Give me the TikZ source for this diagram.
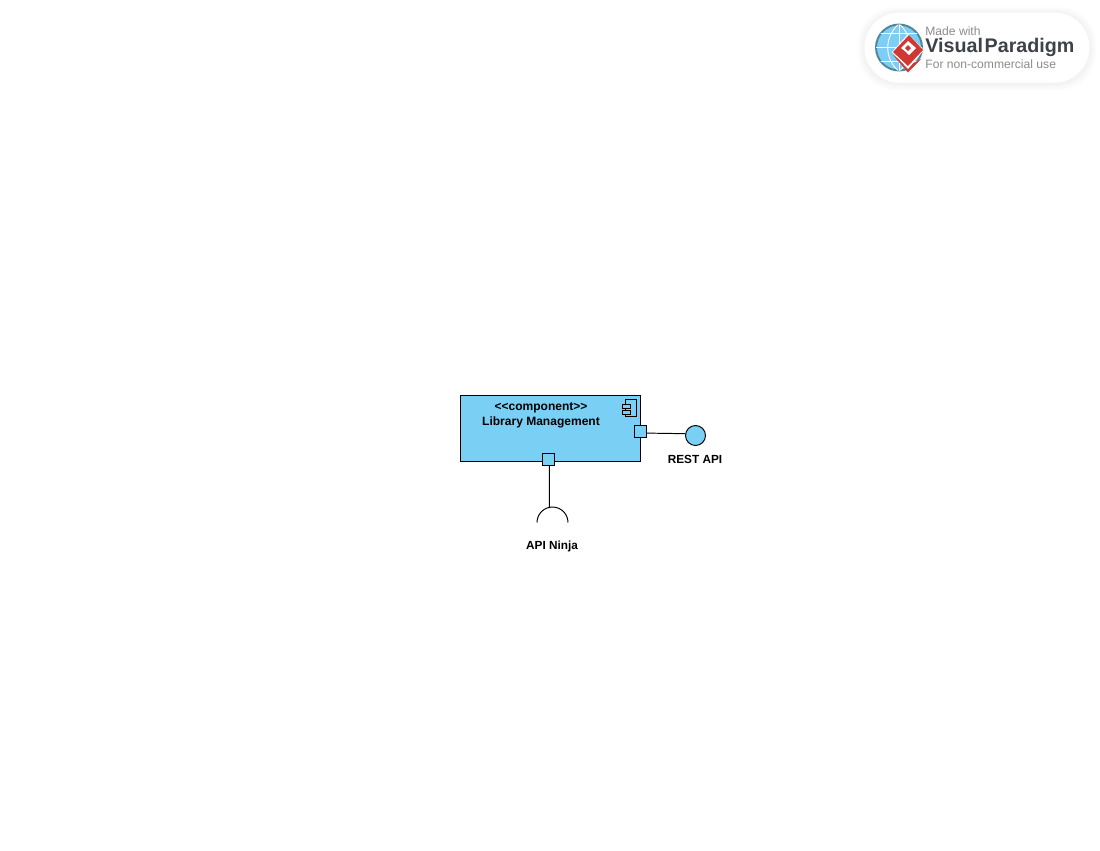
\documentclass[tikz,border=0pt]{standalone}
\usepackage{fontspec}
\setmainfont{Liberation Sans}
\usetikzlibrary{positioning,calc}
\definecolor{compblue}{RGB}{122,207,245}
\definecolor{vpgrey}{RGB}{140,140,140}
\definecolor{vpdark}{RGB}{62,66,72}
\definecolor{vpred}{RGB}{208,56,52}
\definecolor{vpring}{RGB}{84,134,150}
\definecolor{vpglobe}{RGB}{125,205,245}
\tikzset{
  compbox/.style={draw,fill=compblue,line width=0.5pt,minimum width=3.6cm,minimum height=1.32cm,inner sep=0pt},
  portbox/.style={draw,fill=compblue,line width=0.5pt,minimum size=0.25cm,inner sep=0pt},
  iconbox/.style={draw,fill=compblue,line width=0.45pt,inner sep=0pt},
  lollipop/.style={draw,circle,fill=compblue,line width=0.55pt,minimum size=0.4cm,inner sep=0pt},
  lbl/.style={font=\fontsize{6.7}{8}\selectfont\bfseries,inner sep=0pt,align=center},
  wire/.style={line width=0.55pt}
}
\begin{document}
\begin{tikzpicture}[x=0.02cm,y=-0.02cm]
  \useasboundingbox (0,0) rectangle (1100,850);
  % watermark
  \foreach \g in {6,5,4,3,2,1}{
      \fill[black,opacity=0.009,rounded corners=0.72cm] (864-\g,13-\g) rectangle (1090+\g,84+\g);
  }
  \node[fill=white,rounded corners=0.7cm,minimum width=4.5cm,minimum height=1.4cm,inner sep=0pt] (badge) at (977,47.5) {};
  \node[circle,draw=vpring,line width=1.1pt,fill=vpglobe,minimum size=0.92cm,inner sep=0pt] (globe) at (899,47.5) {};
  \begin{scope}
    \clip (899,47.5) circle (0.46cm);
    \foreach \r in {-14,0,14}{
        \draw[white,line width=0.5pt] (875,47.5+\r) -- (923,47.5+\r);
    }
    \draw[white,line width=0.5pt] (899,24) -- (899,71);
    \draw[white,line width=0.5pt] (899,24) .. controls (884,36) and (884,60) .. (899,71);
    \draw[white,line width=0.5pt] (899,24) .. controls (914,36) and (914,60) .. (899,71);
  \end{scope}
  \fill[vpred] (893,55) -- (908,72.5) -- (921,59) -- (908,66) -- cycle;
  \fill[white] (892,52) -- (908,34) -- (924,50) -- (908,69) -- cycle;
  \fill[vpred] (893,52) -- (909,35) -- (923,50) -- (908,66) -- cycle;
  \fill[white] (908,41) -- (916,48) -- (909,55) -- (906,52) -- (901,48) -- cycle;
  \fill[vpred] (908,45) -- (911,48) -- (908,51) -- (905,48) -- cycle;
  \node[font=\fontsize{6.9}{8}\selectfont,text=vpgrey,inner sep=0pt,anchor=west] (madewith) at (925,31) {Made with};
  \node[font=\fontsize{11.2}{13}\selectfont\bfseries,text=vpdark,inner sep=0pt,anchor=west] (vpname) at (925,47.5) {Visual\kern1pt Paradigm};
  \node[font=\fontsize{6.9}{8}\selectfont,text=vpgrey,inner sep=0pt,anchor=west] (nonuse) at (925,64.5) {For non-commercial use};
  % component
  \node[compbox] (library) at (550.5,428.5) {};
  \node[lbl,anchor=north,font=\fontsize{6.85}{8}\selectfont\bfseries] (libtext) at (541,402.5) {<\kern0pt<component>\kern0pt>\\[0.35pt]Library Management};
  \node[iconbox,minimum width=0.22cm,minimum height=0.34cm] (icon) at (630.5,408.3) {};
  \foreach \c/\y in {a/406,b/412}{
      \node[iconbox,minimum width=0.16cm,minimum height=0.08cm] (icon\c) at (626,\y) {};
  }
  \node[portbox] (porte) at (640.3,431.3) {};
  \node[portbox] (ports) at (548.3,459.3) {};
  % provided interface
  \node[lollipop] (restapi) at (695.5,435.5) {};
  \node[lbl] (restlbl) at (695,459.5) {REST API};
  \draw[wire] (porte.-15) -- (restapi.170);
  % required interface
  \coordinate (socket) at (552.5,522.5);
  \coordinate (sockettop) at (549.3,508);
  \draw[wire] ($(socket)+(-15.5,0)$) arc[start angle=180,end angle=0,radius=0.31cm];
  \draw[wire] (ports.-80) -- (sockettop);
  \node[lbl] (ninjalbl) at (552,546.5) {API Ninja};
\end{tikzpicture}
\end{document}
